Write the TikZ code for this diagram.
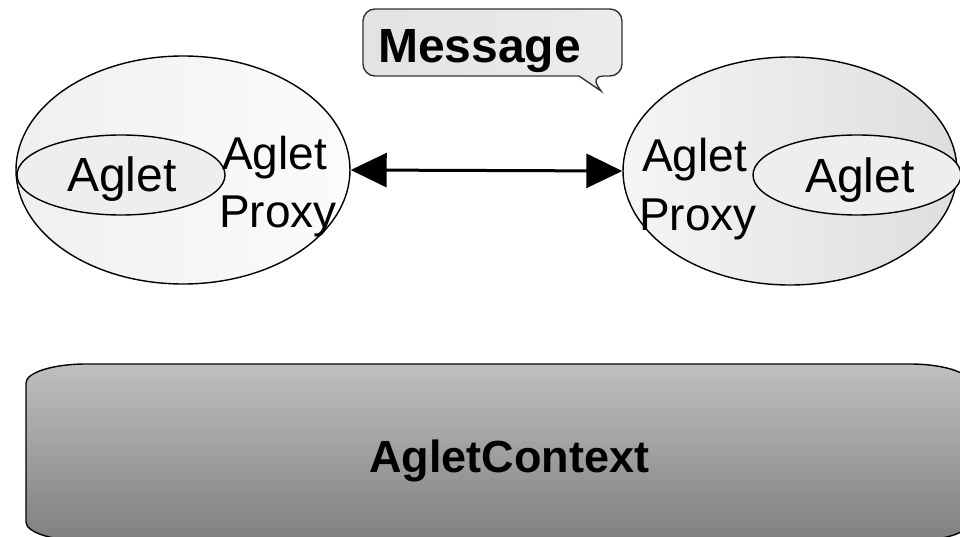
\documentclass[tikz,border=0pt]{standalone}
\usepackage{fontspec}
\setmainfont{Liberation Sans}
\usetikzlibrary{arrows.meta,shapes.geometric}
\begin{document}
\begin{tikzpicture}[x=1pt,y=-1pt,
  outline/.style={draw=black, line width=1.4pt},
  host/.style={ellipse, outline, inner sep=0pt, minimum width=334pt, minimum height=228pt},
  agletcell/.style={ellipse, outline, inner sep=0pt, minimum width=208pt, minimum height=80pt, fill=gray!13},
  plainlabel/.style={inner sep=0pt, anchor=base west, font=\fontsize{46}{56}\selectfont},
  biglabel/.style={inner sep=0pt, anchor=base west, font=\fontsize{48}{58}\selectfont},
  boldlabel/.style={inner sep=0pt, anchor=base west, font=\fontsize{48}{58}\selectfont\bfseries},
  exchange/.style={line width=3pt, >={Triangle[length=36pt,width=34pt]}, <->}]
\useasboundingbox (0,0) rectangle (960,537);
\clip (0,0) rectangle (960,537);

% speech bubble with the message
\path[outline, draw=black!80, left color=gray!22, right color=gray!15]
  (363,40) [rounded corners=12pt] -- (363,9) -- (622,9) -- (622,76)
  -- (591,76) [sharp corners] -- (601,91) -- (579,76)
  [rounded corners=12pt] -- (363,76) -- cycle;
\node[boldlabel] (msg) at (378,63) {Message};

% left host with its aglet and proxy
\node[host, left color=gray!12, right color=gray!3] (lhost) at (183,170) {};
\node[agletcell] (laglet) at (121,175) {};
\node[biglabel] (lagletname) at (67,192) {Aglet};
\node[plainlabel] (lproxy1) at (222,170) {Aglet};
\node[plainlabel] (lproxy2) at (219,228) {Proxy};

% right host with its proxy and aglet
\node[host, left color=gray!8, right color=gray!26] (rhost) at (790,171) {};
\node[agletcell] (raglet) at (857,175) {};
\node[biglabel] (ragletname) at (805,193) {Aglet};
\node[plainlabel] (rproxy1) at (642,172) {Aglet};
\node[plainlabel] (rproxy2) at (639,231) {Proxy};

% message exchange between the two proxies
\draw[exchange] (lhost.east) -- (rhost.west);

% context underneath
\path[outline, top color=gray!50, bottom color=gray]
  (26,383) .. controls (26,372.5) and (53,364) .. (86,364)
  -- (910,364) .. controls (943,364) and (970,372.5) .. (970,383)
  -- (970,522) .. controls (970,532.5) and (943,541) .. (910,541)
  -- (86,541) .. controls (53,541) and (26,532.5) .. (26,522) -- cycle;
\node[inner sep=0pt, anchor=base west, font=\fontsize{45}{54}\selectfont\bfseries] (ctx) at (369,472) {AgletContext};
\end{tikzpicture}
\end{document}
